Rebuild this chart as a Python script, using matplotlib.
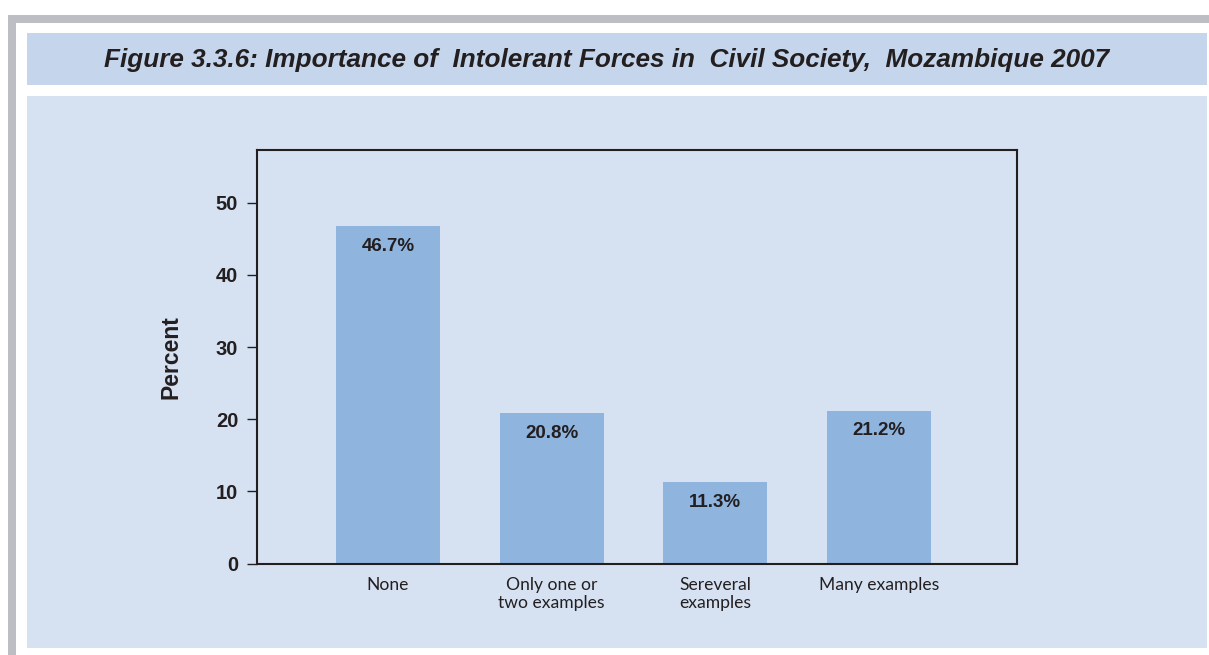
import matplotlib.pyplot as plt
from matplotlib.patches import Rectangle

# data
categories = ["None", "Only one or\ntwo examples", "Sereveral\nexamples", "Many examples"]
values = [46.7, 20.8, 11.3, 21.2]
value_labels = ["46.7%", "20.8%", "11.3%", "21.2%"]
yticks = [0, 10, 20, 30, 40, 50]
title = "Figure 3.3.6: Importance of  Intolerant Forces in  Civil Society,  Mozambique 2007"

W, H = 1209, 655
fig = plt.figure(figsize=(W / 100, H / 100), dpi=100, facecolor="white")


def box(x0, y0, x1, y1, color):
    # pixel coords (top-left origin) -> figure fraction
    fig.patches.append(Rectangle((x0 / W, 1 - y1 / H), (x1 - x0) / W, (y1 - y0) / H,
                                 transform=fig.transFigure, color=color, lw=0, zorder=-5))


# frame and panels
box(8, 15, W, 23, "#bdbec3")
box(8, 15, 16, H, "#bdbec3")
box(27, 33, 1207, 85, "#c5d6ec")
box(27, 96, 1207, 648, "#d6e2f2")

fig.text(607 / W, 1 - 60 / H, title, ha="center", va="center",
         fontsize=18.8, fontweight="bold", fontstyle="italic",
         family="Liberation Sans", color="#231f20")

ax = fig.add_axes([257 / W, 1 - 563.5 / H, (1017 - 257) / W, (563.5 - 150) / H])
ax.set_facecolor("none")
ax.set_zorder(2)

x = range(len(categories))
ax.bar(x, values, width=0.635, color="#8fb4de", zorder=2)
for xi, v, lab in zip(x, values, value_labels):
    ax.annotate(lab, (xi, v), xytext=(0, -14.5), textcoords="offset points",
                ha="center", va="center", fontsize=13.5, fontweight="bold",
                family="Liberation Sans", color="#231f20")

ax.set_xlim(-0.80, 3.843)
ax.set_ylim(0, 57.3)
ax.set_yticks(yticks)
ax.set_yticklabels([str(t) for t in yticks], fontsize=14.5, fontweight="bold",
                   family="Liberation Sans", color="#231f20")
ax.tick_params(axis="y", direction="out", length=7.5, width=1, pad=6, color="#231f20")
ax.set_xticks(list(x))
ax.set_xticklabels(categories, fontsize=12.6, family="Lato", color="#231f20",
                   linespacing=1.1)
ax.tick_params(axis="x", length=0, pad=10)

for s in ax.spines.values():
    s.set_linewidth(1.5)
    s.set_color("#231f20")

ax.set_ylabel("Percent", fontsize=16.5, fontweight="bold", family="Liberation Sans",
              color="#231f20", labelpad=24)

fig.savefig("out.png", dpi=100, facecolor="white")
